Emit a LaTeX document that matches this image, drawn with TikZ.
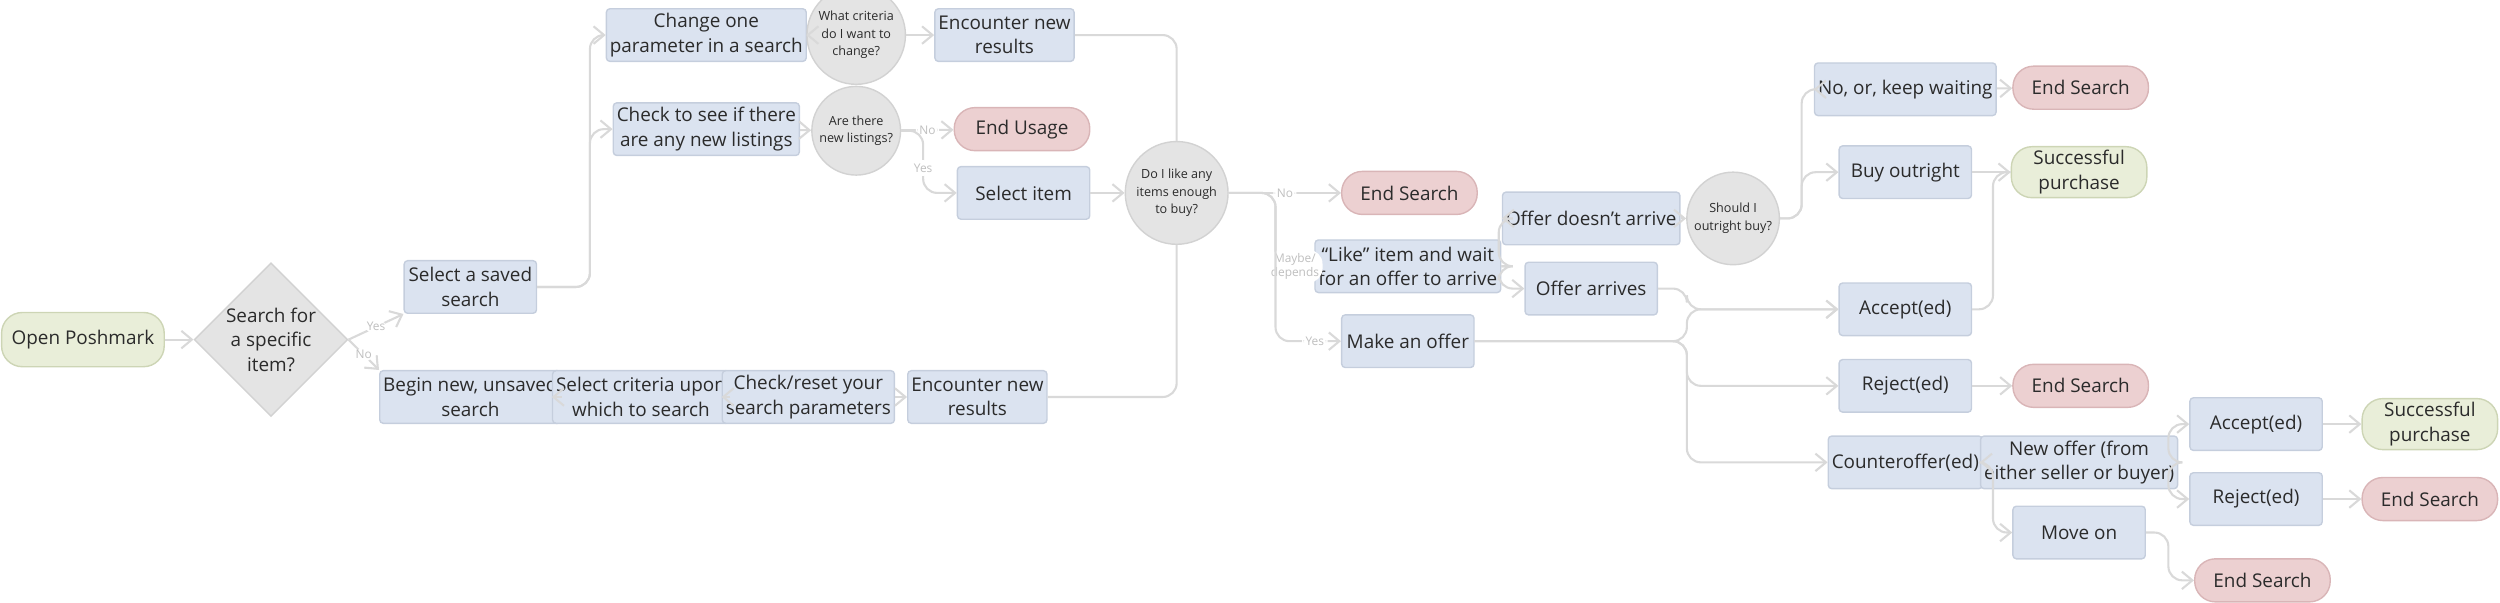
\documentclass[tikz,border=0pt]{standalone}
\usepackage{fontspec}
\setmainfont{Open Sans}
\usetikzlibrary{shapes.geometric,arrows.meta}
\definecolor{bx}{HTML}{DBE3F0}\definecolor{bxd}{HTML}{C5CEDD}
\definecolor{pk}{HTML}{ECD0D1}\definecolor{pkd}{HTML}{D9B5B7}
\definecolor{gr}{HTML}{E9EED9}\definecolor{grd}{HTML}{CDD5B5}
\definecolor{gy}{HTML}{E4E4E4}\definecolor{gyd}{HTML}{D2D2D2}
\definecolor{ln}{HTML}{D9D9D9}\definecolor{tx}{HTML}{2B2B2B}
\begin{document}
\begin{tikzpicture}[x=0.016cm,y=-0.016cm,
 every node/.style={text=tx,font=\fontsize{5.4}{7}\selectfont,align=center,inner sep=1pt},
 box/.style={draw=bxd,fill=bx,minimum width=83*0.016cm,minimum height=33*0.016cm,rounded corners=1pt},
 pill/.style={draw=pkd,fill=pk,minimum width=85*0.016cm,minimum height=27*0.016cm,rounded corners=13*0.016cm},
 gpill/.style={pill,draw=grd,fill=gr,minimum height=32*0.016cm},
 circ/.style={circle,draw=gyd,fill=gy,minimum size=47*0.016cm,font=\fontsize{3.6}{5}\selectfont},
 lab/.style={fill=white,text=gray!50,font=\fontsize{3.4}{4}\selectfont,inner sep=1pt},
 e/.style={draw=ln,line width=0.6pt,rounded corners=4pt,-{Straight Barb[length=3pt,width=5pt]}},
 l/.style={draw=ln,line width=0.6pt,rounded corners=4pt}]
\useasboundingbox (0,0) rectangle (1568,377.6);
\node[gpill,minimum width=102*0.016cm,minimum height=34*0.016cm] (open) at (52,213) {Open Poshmark};
\node[diamond,draw=gyd,fill=gy,minimum width=88*0.016cm,minimum height=64*0.016cm,inner sep=0pt] (q) at (170,213) {Search for\\a specific\\item?};
\node[box] (saved) at (295,180) {Select a saved\\search};
\node[box] (begin) at (295,249) {Begin new, unsaved\\search};
\node[box] (crit) at (402,249) {Select criteria upon\\which to search};
\node[box] (reset) at (507,249) {Check/reset your\\search parameters};
\node[box] (enc2) at (613,249) {Encounter new\\results};
\node[box] (change) at (443,22) {Change one\\parameter in a search};
\node[circ] (what) at (537,22) {What criteria\\do I want to\\change?};
\node[box] (enc1) at (630,22) {Encounter new\\results};
\node[box] (check) at (443,81) {Check to see if there\\are any new listings};
\node[circ] (are) at (537,82) {Are there\\new listings?};
\node[pill] (endu) at (641,81) {End Usage};
\node[box] (sel) at (642,121) {Select item};
\node[circ] (do) at (738,121) {Do I like any\\items enough\\to buy?};
\node[pill] (es1) at (884,121) {End Search};
\node[box] (like) at (883,167) {“Like” item and wait\\for an offer to arrive};
\node[box] (make) at (883,214) {Make an offer};
\node[box] (ono) at (998,137) {Offer doesn’t arrive};
\node[box] (oarr) at (998,181) {Offer arrives};
\node[circ] (should) at (1087,137) {Should I\\outright buy?};
\node[box] (wait) at (1195,56) {No, or, keep waiting};
\node[pill] (es2) at (1305,55) {End Search};
\node[box] (buy) at (1195,108) {Buy outright};
\node[gpill] (succ1) at (1304,108) {Successful\\purchase};
\node[box] (acc) at (1195,194) {Accept(ed)};
\node[box] (rej) at (1195,242) {Reject(ed)};
\node[pill] (es3) at (1305,242) {End Search};
\node[box] (cnt) at (1195,290) {Counteroffer(ed)};
\node[box] (new) at (1304,290) {New offer (from\\either seller or buyer)};
\node[box] (move) at (1304,334) {Move on};
\node[box] (acc2) at (1415,266) {Accept(ed)};
\node[box] (rej2) at (1415,313) {Reject(ed)};
\node[gpill] (succ2) at (1524,266) {Successful\\purchase};
\node[pill] (es4) at (1524,313) {End Search};
\node[pill] (es5) at (1419,364) {End Search};
% connectors
\draw[e] (open) -- (q);
\draw[e] (q.east) -- node[lab]{Yes} (saved.south west);
\draw[e] (q.east) -- node[lab]{No} (begin.north west);
\draw[e] (saved.east) -- (370,180) |- (change.west);
\draw[e] (saved.east) -- (370,180) |- (check.west);
\draw[e] (change) -- (what); \draw[e] (what) -- (enc1);
\draw[l] (enc1.east) -| (do.north);
\draw[e] (check) -- (are);
\draw[e] (are) -- node[lab]{No} (endu);
\draw[e] (are.east) -- (579,82) |- node[lab,pos=0.3]{Yes} (sel.west);
\draw[e] (sel) -- (do);
\draw[e] (begin) -- (crit); \draw[e] (crit) -- (reset); \draw[e] (reset) -- (enc2);
\draw[l] (enc2.east) -| (do.south);
\draw[e] (do) -- node[lab]{No} (es1);
\draw[e] (do.east) -- (800,121) |- node[lab,pos=0.75,font=\fontsize{3.4}{4}\selectfont]{Maybe/\\depends} (like.west);
\draw[e] (do.east) -- (800,121) |- node[lab,pos=0.8]{Yes} (make.west);
\draw[e] (like.east) -- (940,167) |- (ono.west);
\draw[e] (like.east) -- (940,167) |- (oarr.west);
\draw[e] (ono) -- (should);
\draw[e] (should.east) -- (1130,137) |- (wait.west);
\draw[e] (should.east) -- (1130,137) |- (buy.west);
\draw[e] (wait) -- (es2); \draw[e] (buy) -- (succ1);
\draw[e] (oarr.east) -- (1058,181) |- (acc.west);
\draw[e] (make.east) -- (1058,214) |- (acc.west);
\draw[e] (make.east) -- (1058,214) |- (rej.west);
\draw[e] (make.east) -- (1058,214) |- (cnt.west);
\draw[l] (acc.east) -- (1250,194) |- (succ1.west);
\draw[e] (rej) -- (es3);
\draw[e] (cnt) -- (new);
\draw[e] (cnt.east) -- (1250,290) |- (move.west);
\draw[e] (new.east) -- (1360,290) |- (acc2.west);
\draw[e] (new.east) -- (1360,290) |- (rej2.west);
\draw[e] (acc2) -- (succ2); \draw[e] (rej2) -- (es4);
\draw[e] (move.east) -- (1360,334) |- (es5.west);
\end{tikzpicture}
\end{document}
